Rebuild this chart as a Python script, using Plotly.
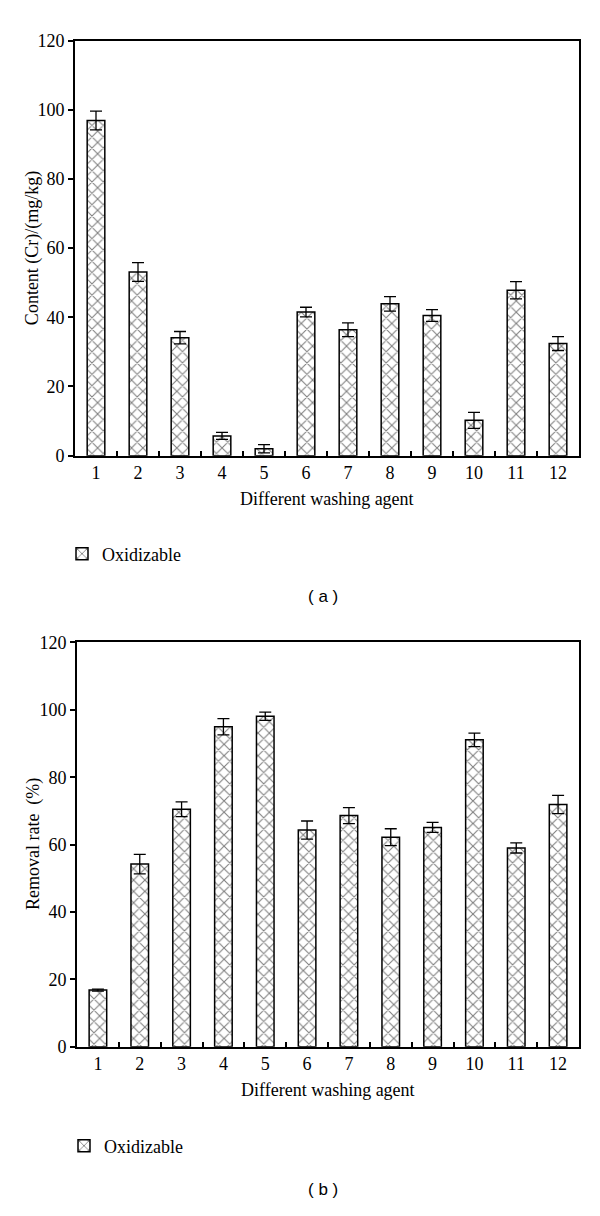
import plotly.graph_objects as go

agents = [1, 2, 3, 4, 5, 6, 7, 8, 9, 10, 11, 12]
content_cr = [96.9, 53.1, 34.1, 5.7, 2.0, 41.5, 36.4, 43.9, 40.5, 10.2, 47.8, 32.4]
content_err = [2.7, 2.7, 1.8, 1.0, 1.2, 1.4, 2.0, 2.1, 1.7, 2.3, 2.5, 2.0]
removal_rate = [16.8, 54.2, 70.5, 95.0, 98.1, 64.3, 68.6, 62.2, 65.1, 91.1, 59.0, 71.9]
removal_err = [0.3, 2.9, 2.2, 2.4, 1.2, 2.7, 2.4, 2.5, 1.5, 2.0, 1.5, 2.7]
y_ticks = [0, 20, 40, 60, 80, 100, 120]
series_name = "Oxidizable"

SERIF = "Liberation Serif"
OFF = 8                      # default page body margin in the browser
W, H = 600 - OFF, 1216 - OFF

def fx(px):
    return (px - OFF) / W

def fy(py):
    return 1 - (py - OFF) / H

def bar(x, y, err, xa, ya, legend):
    return go.Bar(
        x=x, y=y, xaxis=xa, yaxis=ya, name=series_name, legend=legend,
        width=0.42,
        marker=dict(color="white", line=dict(color="black", width=1.5),
                    pattern=dict(shape="x", fgcolor="black", bgcolor="white",
                                 size=8, solidity=0.25)),
        error_y=dict(type="data", array=err, visible=True, color="black",
                     thickness=1.3, width=6),
    )

fig = go.Figure()
fig.add_trace(bar(agents, content_cr, content_err, "x", "y", "legend"))
fig.add_trace(bar(agents, removal_rate, removal_err, "x2", "y2", "legend2"))

def xaxis(domain, anchor):
    return dict(domain=domain, anchor=anchor, range=[0.5, 12.5],
                tickvals=agents, ticktext=[str(a) for a in agents],
                ticks="", showline=True, linecolor="black", linewidth=2,
                mirror=True, showgrid=False, zeroline=False,
                tickfont=dict(family=SERIF, size=18, color="black"),
                minor=dict(tickvals=[a + 0.5 for a in agents[:-1]],
                           ticks="inside", ticklen=5, tickwidth=1.5,
                           tickcolor="black", showgrid=False))

def yaxis(domain, anchor):
    return dict(domain=domain, anchor=anchor, range=[0, 120],
                tickvals=y_ticks, ticks="outside", ticklen=5, tickwidth=1.5,
                tickcolor="black", showline=True, linecolor="black",
                linewidth=2, mirror=True, showgrid=False, zeroline=False,
                tickfont=dict(family=SERIF, size=18, color="black"))

fig.update_layout(
    width=W, height=H, margin=dict(l=0, r=0, t=0, b=0),
    plot_bgcolor="white", paper_bgcolor="white",
    xaxis=xaxis([fx(75), fx(579)], "y"),
    yaxis=yaxis([fy(453), fy(31)], "x"),
    xaxis2=xaxis([fx(77), fx(579)], "y2"),
    yaxis2=yaxis([fy(1054), fy(643)], "x2"),
    legend=dict(x=fx(62), y=fy(553), xanchor="left", yanchor="middle",
                font=dict(family=SERIF, size=18, color="black"),
                bgcolor="rgba(0,0,0,0)"),
    legend2=dict(x=fx(64), y=fy(1155), xanchor="left", yanchor="middle",
                 font=dict(family=SERIF, size=18, color="black"),
                 bgcolor="rgba(0,0,0,0)"),
    showlegend=True,
)

ann_font = dict(family=SERIF, size=18, color="black")
cap_font = dict(family="Liberation Sans", size=17, color="black")

def ann(text, x, y, font, angle=0):
    return dict(text=text, x=fx(x), y=fy(y), xref="paper", yref="paper",
                xanchor="center", yanchor="middle", textangle=angle,
                showarrow=False, font=font)

fig.update_layout(annotations=[
    ann("Different washing agent", 327, 497, ann_font),
    ann("Content (Cr)/(mg/kg)", 32, 242, ann_font, -90),
    ann("( a )", 323, 596, cap_font),
    ann("Different washing agent", 328, 1098, ann_font),
    ann("Removal rate  (%)", 33, 848, ann_font, -90),
    ann("( b )", 323, 1199, cap_font),
])

fig.write_html("out.html")
